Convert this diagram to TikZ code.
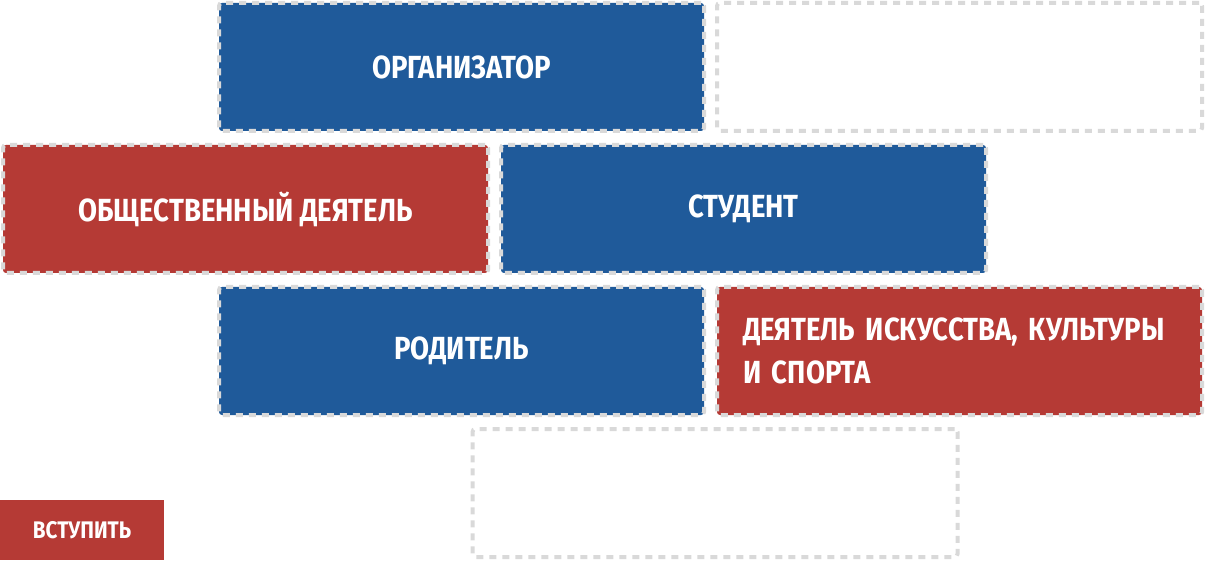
\documentclass[tikz,border=0pt]{standalone}
\usepackage{fontspec}
\setmainfont{Fira Sans}[FakeStretch=0.86]
\usetikzlibrary{positioning}
\definecolor{roleblue}{HTML}{1F5A9A}
\definecolor{rolered}{HTML}{B53A35}
\definecolor{dashgray}{HTML}{D9D9D9}

\begin{document}
\begin{tikzpicture}[x=1pt,y=-1pt,
  card/.style={draw=dashgray,line width=4pt,dash pattern=on 7pt off 6pt,
    rounded corners=3pt,minimum width=485pt,minimum height=128pt,
    inner sep=0pt,text=white,font=\bfseries\fontsize{32}{43}\selectfont},
  bluecard/.style={card,fill=roleblue},
  redcard/.style={card,fill=rolered},
  emptycard/.style={card,fill=none}]
  \useasboundingbox (0,0) rectangle (1205,561);
  % top row
  \node[bluecard] (organizer) at (461.5,67) {\raisebox{-2pt}{ОРГАНИЗАТОР}};
  \node[emptycard] (blanktop) at (959.5,67) {};
  % middle row
  \node[redcard] (activist) at (245.5,209) {\raisebox{-2pt}{ОБЩЕСТВЕННЫЙ ДЕЯТЕЛЬ}};
  \node[bluecard] (student) at (743.5,209) {\raisebox{-2pt}{СТУДЕНТ}};
  % lower row
  \node[bluecard] (parent) at (461.5,351) {\raisebox{-2pt}{РОДИТЕЛЬ}};
  \node[redcard,align=left,text width=433pt,inner xsep=26pt] (artist) at (959.5,351)
    {ДЕЯТЕЛЬ ИСКУССТВА, КУЛЬТУРЫ\\И СПОРТА};
  \node[emptycard] (blankbottom) at (715,493) {};
  % button
  \node[fill=rolered,text=white,minimum width=164pt,minimum height=60pt,
    inner sep=0pt,font=\bfseries\fontsize{24}{26}\selectfont] (join) at (82,530) {ВСТУПИТЬ};
\end{tikzpicture}
\end{document}
